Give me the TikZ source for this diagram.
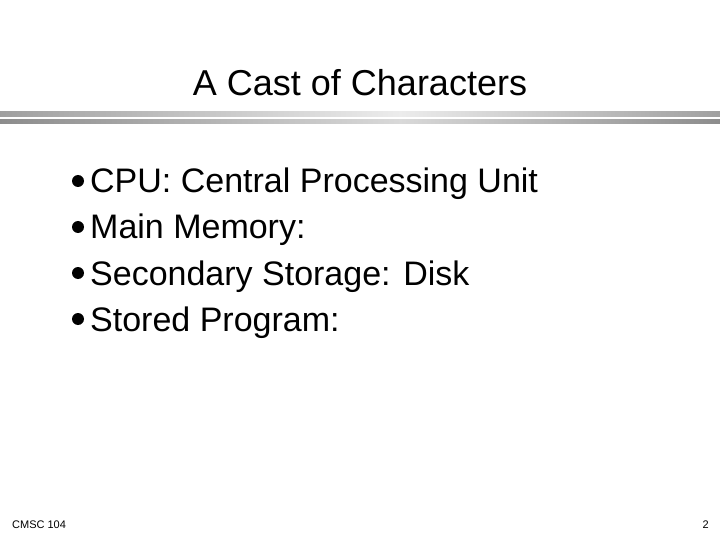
\documentclass[tikz,border=0pt]{standalone}
\usepackage{fontspec}
\setmainfont{Liberation Sans}
\begin{document}
\begin{tikzpicture}[x=1pt,y=-1pt,
  item/.style={anchor=base west,font=\fontsize{34}{38}\selectfont,inner sep=0},
  bul/.style={circle,fill=black,inner sep=0,minimum size=12pt},
  foot/.style={font=\fontsize{11}{13}\selectfont,inner sep=0}]
\useasboundingbox (0,0) rectangle (720,540);
\fill[white] (0,0) rectangle (720,540);
\shade[left color=gray!75, right color=gray!15] (0,112) rectangle (400,117);
\shade[left color=gray!15, right color=gray!75] (400,112) rectangle (720,117);
\shade[left color=gray!90, right color=gray!30] (0,120) rectangle (400,124);
\shade[left color=gray!30, right color=gray!90] (400,120) rectangle (720,124);
\node[anchor=base,font=\fontsize{36}{40}\selectfont,inner sep=0] (title) at (360,96) {A Cast of Characters};
\node[bul] (b1) at (78,181) {};
\node[item] (t1) at (90,193) {CPU: Central Processing Unit};
\node[bul] (b2) at (78,227) {};
\node[item] (t2) at (90,239) {Main Memory:};
\node[bul] (b3) at (78,273) {};
\node[item] (t3) at (90,285) {Secondary Storage: Disk};
\node[bul] (b4) at (78,319) {};
\node[item] (t4) at (90,331) {Stored Program:};
\node[foot,anchor=base west] (f1) at (12,528) {CMSC 104};
\node[foot,anchor=base east] (f2) at (709,528) {2};
\end{tikzpicture}
\end{document}
